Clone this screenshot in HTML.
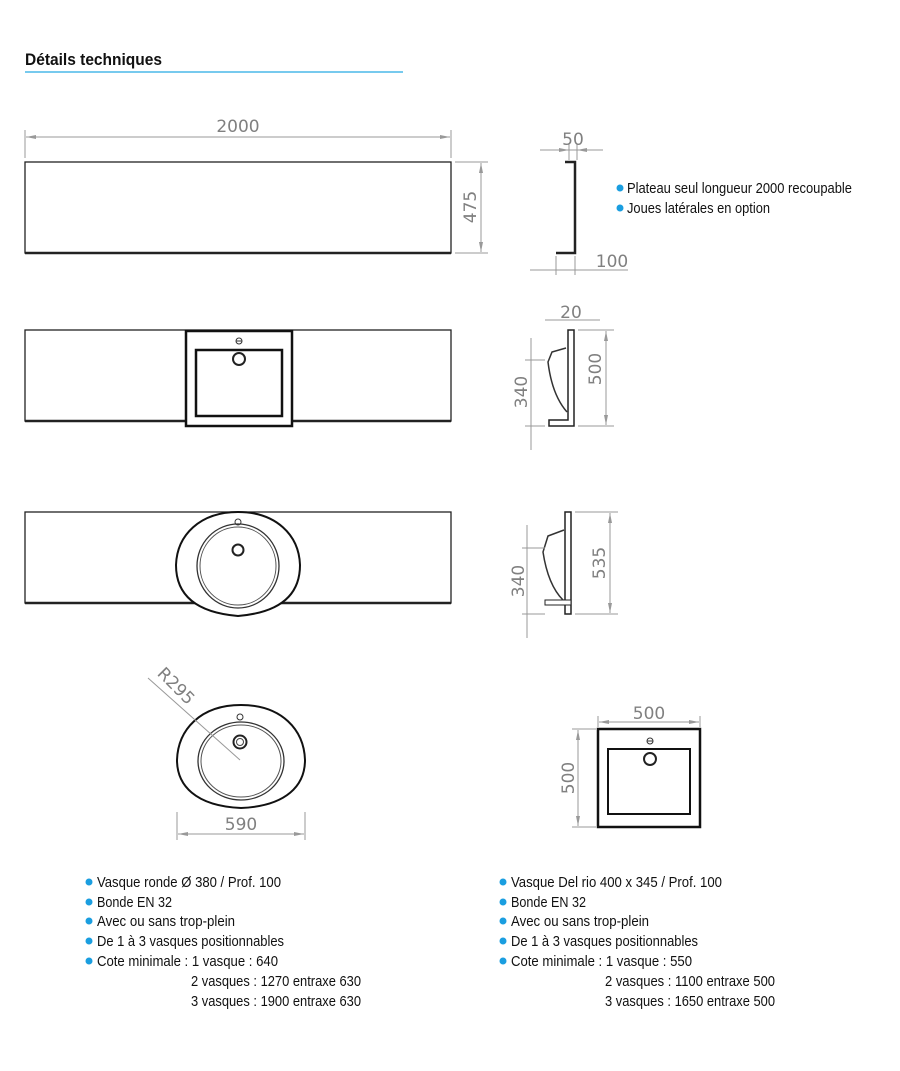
<!DOCTYPE html>
<html><head><meta charset="utf-8"><style>
html,body{margin:0;padding:0;background:#fff;}
svg{display:block;}
.t{font-family:"Liberation Sans Narrow","Liberation Sans",sans-serif;font-size:15px;fill:#111;}
.d{font-family:"DejaVu Sans","Liberation Sans",sans-serif;font-size:17px;fill:#808080;}
.dl{stroke:#999;stroke-width:1;fill:none;}
.k{stroke:#222;fill:none;stroke-width:1.3;}
</style></head><body>
<svg width="900" height="1071" viewBox="0 0 900 1071" xmlns="http://www.w3.org/2000/svg">
<defs>
<marker id="a" viewBox="0 0 10 6" refX="10" refY="3" markerWidth="10" markerHeight="6" orient="auto-start-reverse" markerUnits="userSpaceOnUse"><path d="M0,1 L10,3 L0,5z" fill="#999"/></marker>
</defs>
<text x="25" y="65" font-family="Liberation Sans Narrow,Liberation Sans,sans-serif" font-weight="bold" font-size="17" fill="#111" textLength="137" lengthAdjust="spacingAndGlyphs">Détails techniques</text>
<line x1="25" y1="72" x2="403" y2="72" stroke="#4ab8e8" stroke-width="1.5"/>

<!-- Row 1 -->
<rect x="25" y="162" width="426" height="91" class="k"/>
<line x1="25" y1="253" x2="451" y2="253" stroke="#222" stroke-width="2.5"/>
<line x1="25" y1="130" x2="25" y2="158" class="dl"/><line x1="451" y1="130" x2="451" y2="158" class="dl"/>
<line x1="26" y1="137" x2="450" y2="137" class="dl" marker-start="url(#a)" marker-end="url(#a)"/>
<text x="238" y="132" class="d" text-anchor="middle">2000</text>
<line x1="455" y1="162" x2="488" y2="162" class="dl"/><line x1="455" y1="253" x2="488" y2="253" class="dl"/>
<line x1="481" y1="163" x2="481" y2="252" class="dl" marker-start="url(#a)" marker-end="url(#a)"/>
<text transform="translate(476,207) rotate(-90)" class="d" text-anchor="middle">475</text>
<path d="M565,162 L575,162 L575,253 L556,253" stroke="#222" stroke-width="2.5" fill="none"/>
<line x1="540" y1="150" x2="603" y2="150" class="dl"/>
<line x1="555" y1="150" x2="569" y2="150" class="dl" marker-end="url(#a)"/>
<line x1="590" y1="150" x2="577" y2="150" class="dl" marker-end="url(#a)"/>
<line x1="569" y1="144" x2="569" y2="160" class="dl"/><line x1="577" y1="144" x2="577" y2="160" class="dl"/>
<text x="573" y="145" class="d" text-anchor="middle">50</text>
<line x1="530" y1="270" x2="628" y2="270" class="dl"/>
<line x1="556" y1="256" x2="556" y2="275" class="dl"/><line x1="575" y1="256" x2="575" y2="275" class="dl"/>
<text x="612" y="267" class="d" text-anchor="middle">100</text>
<circle cx="620" cy="188" r="3.5" fill="#1a9ee0"/>
<text x="627" y="193" class="t" textLength="225" lengthAdjust="spacingAndGlyphs">Plateau seul longueur 2000 recoupable</text>
<circle cx="620" cy="208" r="3.5" fill="#1a9ee0"/>
<text x="627" y="213" class="t" textLength="143" lengthAdjust="spacingAndGlyphs">Joues latérales en option</text>

<!-- Row 2 -->
<rect x="25" y="330" width="426" height="91" class="k"/>
<line x1="25" y1="421" x2="451" y2="421" stroke="#222" stroke-width="2.5"/>
<rect x="186" y="331" width="106" height="95" fill="#fff" stroke="#111" stroke-width="2.5"/>
<rect x="196" y="350" width="86" height="66" fill="#fff" stroke="#111" stroke-width="2.5"/>
<circle cx="239" cy="359" r="6" fill="#fff" stroke="#222" stroke-width="2"/>
<circle cx="239" cy="341" r="3" fill="none" stroke="#333"/><line x1="236" y1="341" x2="242" y2="341" stroke="#333"/>
<path d="M568,330 L574,330 L574,426 L549,426 L549,420 L568,420 Z" fill="#fff" stroke="#222" stroke-width="1.5"/>
<path d="M566,348 L552,352 L548,362 Q552,395 567,412" fill="none" stroke="#333" stroke-width="1.5"/>
<line x1="545" y1="320" x2="600" y2="320" class="dl"/>
<text x="571" y="318" class="d" text-anchor="middle">20</text>
<line x1="578" y1="330" x2="614" y2="330" class="dl"/><line x1="578" y1="426" x2="614" y2="426" class="dl"/>
<line x1="606" y1="331" x2="606" y2="425" class="dl" marker-start="url(#a)" marker-end="url(#a)"/>
<text transform="translate(601,369) rotate(-90)" class="d" text-anchor="middle">500</text>
<line x1="525" y1="360" x2="545" y2="360" class="dl"/><line x1="525" y1="426" x2="545" y2="426" class="dl"/>
<line x1="531" y1="338" x2="531" y2="450" class="dl"/>
<text transform="translate(527,392) rotate(-90)" class="d" text-anchor="middle">340</text>

<!-- Row 3 -->
<rect x="25" y="512" width="426" height="91" class="k"/>
<line x1="25" y1="603" x2="451" y2="603" stroke="#222" stroke-width="2.5"/>
<path d="M238,512 C200,512 177,535 176,565 C176,590 190,612 238,616 C286,612 300,590 300,565 C299,535 276,512 238,512 Z" fill="#fff" stroke="#111" stroke-width="2"/>
<ellipse cx="238" cy="566" rx="41" ry="42" fill="none" stroke="#333" stroke-width="1.3"/>
<ellipse cx="238" cy="566" rx="38" ry="39" fill="none" stroke="#555" stroke-width="1"/>
<circle cx="238" cy="550" r="5.5" fill="#fff" stroke="#222" stroke-width="2"/>
<circle cx="238" cy="522" r="3" fill="none" stroke="#333"/>
<path d="M565,512 L571,512 L571,614 L565,614 Z" fill="#fff" stroke="#222" stroke-width="1.5"/>
<path d="M545,600 L571,600 L571,605 L545,605 Z" fill="#fff" stroke="#222"/>
<path d="M564,530 L548,536 L543,552 Q548,585 563,600" fill="none" stroke="#333" stroke-width="1.5"/>
<line x1="575" y1="512" x2="618" y2="512" class="dl"/><line x1="575" y1="614" x2="618" y2="614" class="dl"/>
<line x1="610" y1="513" x2="610" y2="613" class="dl" marker-start="url(#a)" marker-end="url(#a)"/>
<text transform="translate(605,563) rotate(-90)" class="d" text-anchor="middle">535</text>
<line x1="522" y1="548" x2="545" y2="548" class="dl"/><line x1="522" y1="614" x2="545" y2="614" class="dl"/>
<line x1="527" y1="525" x2="527" y2="638" class="dl"/>
<text transform="translate(524,581) rotate(-90)" class="d" text-anchor="middle">340</text>

<!-- Bottom left basin -->
<path d="M241,705 C200,705 178,730 177,760 C177,785 195,806 241,808 C287,806 305,785 305,760 C304,730 282,705 241,705 Z" fill="#fff" stroke="#111" stroke-width="2"/>
<ellipse cx="241" cy="761" rx="43" ry="39" fill="none" stroke="#333" stroke-width="1.3"/>
<ellipse cx="241" cy="761" rx="40" ry="36" fill="none" stroke="#555" stroke-width="1"/>
<circle cx="240" cy="742" r="6.5" fill="#fff" stroke="#222" stroke-width="2"/>
<circle cx="240" cy="742" r="3.5" fill="none" stroke="#444"/>
<circle cx="240" cy="717" r="3" fill="none" stroke="#333"/>
<line x1="148" y1="678" x2="240" y2="760" class="dl"/>
<text transform="translate(172,690) rotate(45)" class="d" text-anchor="middle">R295</text>
<line x1="177" y1="812" x2="177" y2="840" class="dl"/><line x1="305" y1="812" x2="305" y2="840" class="dl"/>
<line x1="178" y1="834" x2="304" y2="834" class="dl" marker-start="url(#a)" marker-end="url(#a)"/>
<text x="241" y="830" class="d" text-anchor="middle">590</text>

<!-- Bottom right square -->
<rect x="598" y="729" width="102" height="98" fill="#fff" stroke="#111" stroke-width="2.5"/>
<rect x="608" y="749" width="82" height="65" fill="#fff" stroke="#111" stroke-width="2"/>
<circle cx="650" cy="759" r="6" fill="#fff" stroke="#222" stroke-width="2"/>
<circle cx="650" cy="741" r="3" fill="none" stroke="#333"/><line x1="647" y1="741" x2="653" y2="741" stroke="#333"/>
<line x1="598" y1="716" x2="598" y2="727" class="dl"/><line x1="700" y1="716" x2="700" y2="727" class="dl"/>
<line x1="599" y1="722" x2="699" y2="722" class="dl" marker-start="url(#a)" marker-end="url(#a)"/>
<text x="649" y="719" class="d" text-anchor="middle">500</text>
<line x1="572" y1="729" x2="596" y2="729" class="dl"/><line x1="572" y1="827" x2="596" y2="827" class="dl"/>
<line x1="578" y1="730" x2="578" y2="826" class="dl" marker-start="url(#a)" marker-end="url(#a)"/>
<text transform="translate(574,778) rotate(-90)" class="d" text-anchor="middle">500</text>

<!-- Lists -->
<g class="t">
<circle cx="89" cy="882" r="3.5" fill="#1a9ee0"/><text x="97" y="887" textLength="184" lengthAdjust="spacingAndGlyphs">Vasque ronde Ø 380 / Prof. 100</text>
<circle cx="89" cy="902" r="3.5" fill="#1a9ee0"/><text x="97" y="907" textLength="75" lengthAdjust="spacingAndGlyphs">Bonde EN 32</text>
<circle cx="89" cy="921" r="3.5" fill="#1a9ee0"/><text x="97" y="926" textLength="138" lengthAdjust="spacingAndGlyphs">Avec ou sans trop-plein</text>
<circle cx="89" cy="941" r="3.5" fill="#1a9ee0"/><text x="97" y="946" textLength="187" lengthAdjust="spacingAndGlyphs">De 1 à 3 vasques positionnables</text>
<circle cx="89" cy="961" r="3.5" fill="#1a9ee0"/><text x="97" y="966" textLength="181" lengthAdjust="spacingAndGlyphs">Cote minimale : 1 vasque : 640</text>
<text x="191" y="986" textLength="170" lengthAdjust="spacingAndGlyphs">2 vasques : 1270 entraxe 630</text>
<text x="191" y="1006" textLength="170" lengthAdjust="spacingAndGlyphs">3 vasques : 1900 entraxe 630</text>

<circle cx="503" cy="882" r="3.5" fill="#1a9ee0"/><text x="511" y="887" textLength="211" lengthAdjust="spacingAndGlyphs">Vasque Del rio 400 x 345 / Prof. 100</text>
<circle cx="503" cy="902" r="3.5" fill="#1a9ee0"/><text x="511" y="907" textLength="75" lengthAdjust="spacingAndGlyphs">Bonde EN 32</text>
<circle cx="503" cy="921" r="3.5" fill="#1a9ee0"/><text x="511" y="926" textLength="138" lengthAdjust="spacingAndGlyphs">Avec ou sans trop-plein</text>
<circle cx="503" cy="941" r="3.5" fill="#1a9ee0"/><text x="511" y="946" textLength="187" lengthAdjust="spacingAndGlyphs">De 1 à 3 vasques positionnables</text>
<circle cx="503" cy="961" r="3.5" fill="#1a9ee0"/><text x="511" y="966" textLength="181" lengthAdjust="spacingAndGlyphs">Cote minimale : 1 vasque : 550</text>
<text x="605" y="986" textLength="170" lengthAdjust="spacingAndGlyphs">2 vasques : 1100 entraxe 500</text>
<text x="605" y="1006" textLength="170" lengthAdjust="spacingAndGlyphs">3 vasques : 1650 entraxe 500</text>
</g>
</svg>
</body></html>
